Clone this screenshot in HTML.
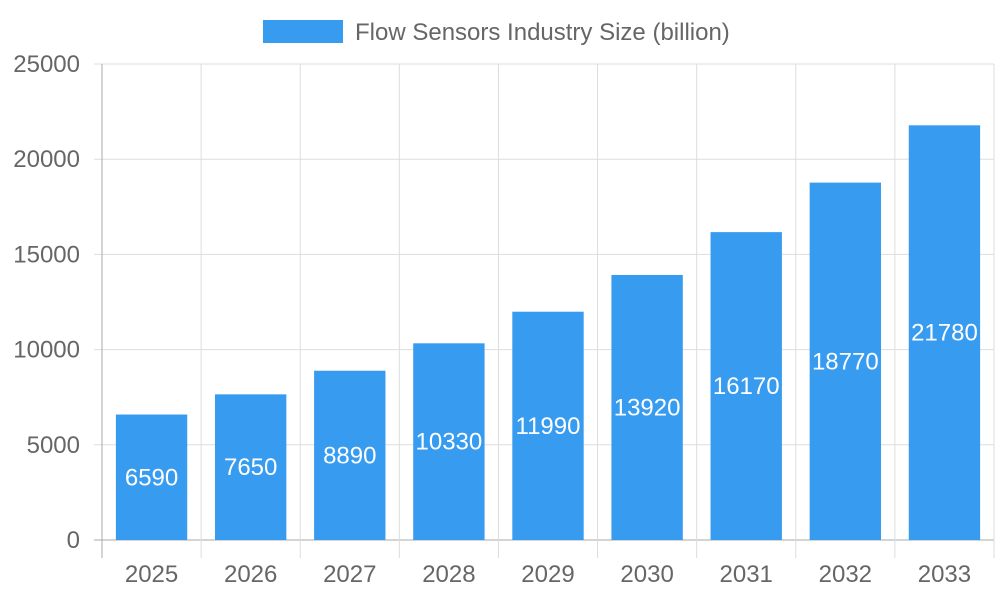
<!DOCTYPE html>
<html><head><meta charset="utf-8"><style>
html,body{margin:0;padding:0;background:#fff;}
svg{display:block;font-family:"Liberation Sans",sans-serif;}
</style></head><body>
<svg id="chart" width="1000" height="600" viewBox="0 0 1000 600" xmlns="http://www.w3.org/2000/svg">
<g id="legend">
<rect x="263" y="20" width="80" height="23" fill="#379bf0"></rect>
<text x="355" y="40" font-size="24" fill="#666">Flow Sensors Industry Size (billion)</text>
</g>
<g id="grid"></g><g id="bars"></g><g id="axes"></g>
</svg>
<script>
const categories = ["2025","2026","2027","2028","2029","2030","2031","2032","2033"];
const values = [6590,7650,8890,10330,11990,13920,16170,18770,21780];
const yTicks = [0,5000,10000,15000,20000,25000];
const NS="http://www.w3.org/2000/svg";
const L=102,R=994,T=64,B=540,yMax=25000;
const band=(R-L)/categories.length;
function y(v){return B-(v/yMax)*(B-T);}
function xc(i){return L+band*(i+0.5);}
function mk(tag,attrs,parent,txt){const e=document.createElementNS(NS,tag);for(const k in attrs)e.setAttribute(k,attrs[k]);if(txt!==undefined)e.textContent=txt;parent.appendChild(e);return e;}
const grid=document.getElementById('grid'),bars=document.getElementById('bars'),axes=document.getElementById('axes');
yTicks.forEach(t=>{
  const g=mk('line',{x1:94,x2:R,y1:y(t),y2:y(t),stroke:t===0?'#aaa':'#ddd','stroke-width':1},grid);
  
  
  const lb=mk('text',{x:80,y:y(t)+8,'text-anchor':'end','font-size':24,fill:'#666'},axes,String(t));
  
  
});
for(let i=0;i<=categories.length;i++){
  const x=L+band*i;
  const g=mk('line',{x1:x,x2:x,y1:T,y2:558,stroke:i===0?'#aaa':'#ddd','stroke-width':1},grid);
  
  
}
const bw=band*0.72;
categories.forEach((c,i)=>{
  const v=values[i];
  const r=mk('rect',{x:xc(i)-bw/2,y:y(v),width:bw,height:B-y(v),fill:'#379bf0'},bars);
  
  
  const vl=mk('text',{x:xc(i),y:(y(v)+B)/2+8,'text-anchor':'middle','font-size':24,fill:'#fff'},bars,String(v));
  
  
  const xl=mk('text',{x:xc(i),y:582,'text-anchor':'middle','font-size':24,fill:'#666'},axes,c);
  
  
});
</script>
</body></html>
